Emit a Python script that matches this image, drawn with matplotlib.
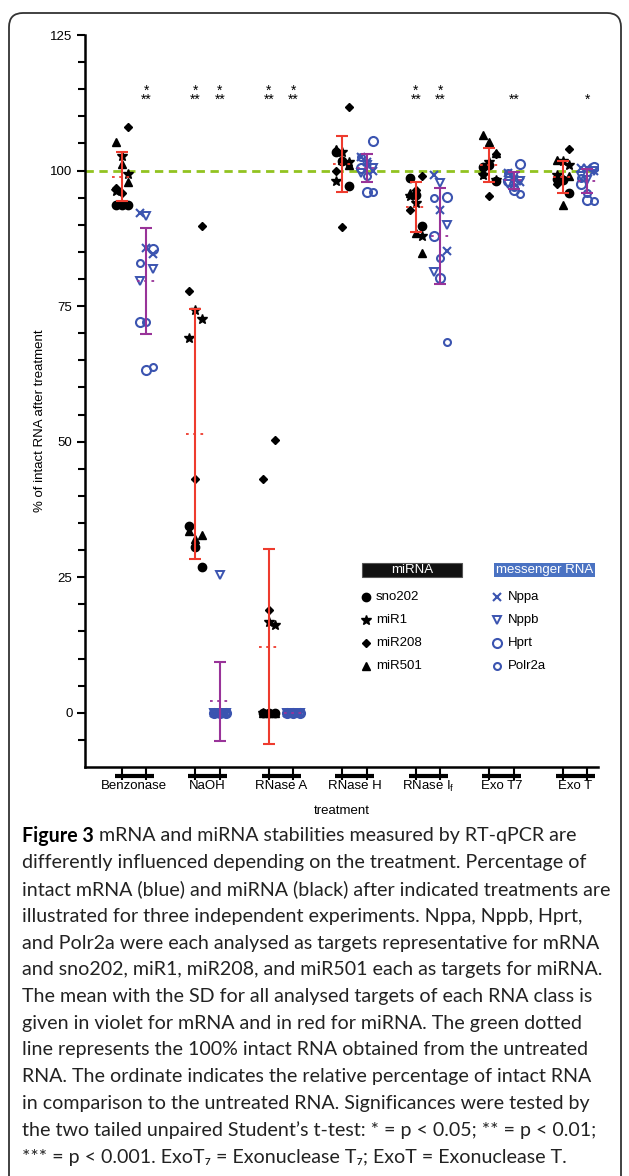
import numpy as np
import matplotlib
matplotlib.use('Agg')
import matplotlib.pyplot as plt
from matplotlib.lines import Line2D
from matplotlib.patches import FancyBboxPatch, Rectangle
from matplotlib.transforms import blended_transform_factory, IdentityTransform

plt.rcParams['font.family'] = ['Liberation Sans', 'DejaVu Sans']

treatments = ['Benzonase', 'NaOH', 'RNase A', 'RNase H', r'RNase I$_\mathregular{f}$', 'Exo T7', 'Exo T']

# miRNA targets, three experiments per treatment (% intact)
sno202 = [[93.7, 93.7, 93.7], [34.5, 30.6, 26.8], [0, 0, 0], [103.5, 101.8, 97.1],
          [98.6, 95.5, 89.7], [100.6, 101.0, 98.0], [98.5, 98.2, 95.8]]
miR1 = [[102.7, 99.4, 96.2], [74.2, 72.7, 69.2], [16.7, 16.2, 0], [103.5, 101.5, 98.0],
        [94.1, 87.9, 95.3], [101.5, 98.3, 99.2], [101.7, 101.0, 99.2]]
miR208 = [[108.1, 96.7, 95.8], [89.7, 77.7, 43.1], [50.3, 43.1, 19.0], [111.7, 100.0, 89.5],
          [99.0, 92.7, 96.5], [103.0, 99.4, 95.3], [103.9, 97.6, 98.5]]
miR501 = [[105.3, 101.2, 97.8], [33.6, 32.0, 32.7], [0, 0, 0], [104.0, 102.0, 101.0],
          [95.8, 88.5, 84.8], [106.6, 105.3, 103.2], [101.9, 93.7, 99.0]]

# mRNA targets
nppa = [[92.1, 85.8, 84.7], [0, 0, 0], [0, 0, 0], [102.5, 101.5, 100.0],
        [99.2, 92.7, 85.1], [99.5, 98.5, 97.8], [100.4, 100.4, 99.9]]
nppb = [[91.7, 81.8, 79.6], [25.5, 0, 0], [0, 0, 0], [101.0, 100.5, 99.5],
        [97.7, 90.0, 81.2], [99.0, 98.0, 97.5], [98.3, 100.0, 99.0]]
hprt = [[85.6, 72.0, 63.2], [0, 0, 0], [0, 0, 0], [105.4, 100.5, 96.1],
        [95.2, 87.9, 80.2], [101.2, 98.0, 96.5], [100.7, 97.6, 94.6]]
polr2a = [[82.9, 72.0, 63.7], [0, 0, 0], [0, 0, 0], [102.5, 99.0, 96.1],
          [94.9, 83.9, 68.3], [99.5, 97.0, 95.7], [98.6, 95.8, 94.3]]

mirna_mean = [98.9, 51.4, 12.2, 101.2, 93.3, 101.0, 98.8]
mirna_sd = [4.6, 23.0, 18.0, 5.1, 4.6, 3.2, 2.9]
mrna_mean = [79.6, 2.1, 0.0, 100.5, 88.0, 98.2, 98.1]
mrna_sd = [9.75, 7.3, 0.0, 2.6, 8.85, 1.55, 2.2]

# significance marks
mirna_sig = ['', '*\n**', '*\n**', '', '*\n**', '', '']
mrna_sig = ['*\n**', '*\n**', '*\n**', '', '*\n**', '**', '*']

BLUE = '#3b54b0'
RED = '#ee3b2e'
VIOLET = '#993399'
GREEN = '#92c320'

W, H = 629, 1176
fig = plt.figure(figsize=(W / 100, H / 100), dpi=100)

def fx(x):
    return x / W

def fy(y):
    return 1 - y / H

# rounded frame around figure + caption
frame = FancyBboxPatch((9, -30), 612, H - 13 + 30, boxstyle='round,pad=0,rounding_size=14',
                       transform=IdentityTransform(), fill=False, ec='#333333', lw=1.3)
fig.add_artist(frame)

ax = fig.add_axes([fx(85), fy(767), fx(598 - 85), (767 - 35) / H])
ax.set_xlim(-0.51, 20.43)
ax.set_ylim(-10, 125)

mirna_targets = [(sno202, dict(marker='o', ms=6, mfc='black', mec='black')),
                 (miR1, dict(marker='*', ms=7.5, mfc='black', mec='black')),
                 (miR208, dict(marker='D', ms=4.5, mfc='black', mec='black')),
                 (miR501, dict(marker='^', ms=6, mfc='black', mec='black'))]
mrna_targets = [(nppa, dict(marker='x', ms=6, mec=BLUE, mew=1.5)),
                (nppb, dict(marker='v', ms=6, mfc='none', mec=BLUE, mew=1.4)),
                (hprt, dict(marker='o', ms=6.5, mfc='none', mec=BLUE, mew=1.5)),
                (polr2a, dict(marker='o', ms=5, mfc='none', mec=BLUE, mew=1.5))]

offs = [-0.25, 0.0, 0.25]
for cls, targets in [(1, mirna_targets), (2, mrna_targets)]:
    for t, (vals, style) in enumerate(targets):
        for g in range(len(treatments)):
            for j, v in enumerate(vals[g]):
                ax.plot(3 * g + cls + offs[(j + t) % 3], v, ls='none', zorder=3, **style)

for g in range(len(treatments)):
    for cls, m, s, c in [(1, mirna_mean[g], mirna_sd[g], RED), (2, mrna_mean[g], mrna_sd[g], VIOLET)]:
        x = 3 * g + cls
        if s > 0:
            ax.errorbar(x, m, yerr=s, fmt='none', ecolor=c, elinewidth=1.5, capsize=4,
                        capthick=1.5, zorder=4)
        ax.plot([x - 0.4, x + 0.4], [m, m], ls=(0, (1.5, 2.5)), color=c, lw=1.3, zorder=4)

ax.axhline(100, color=GREEN, lw=2, ls=(0, (3, 2)), zorder=2)

# significance stars (single text per column, tight line spacing)
for g in range(len(treatments)):
    for cls, sig in [(1, mirna_sig[g]), (2, mrna_sig[g])]:
        if sig:
            ax.text(3 * g + cls, 112.3, sig, ha='center', va='baseline', fontsize=10,
                    linespacing=0.55, multialignment='center')

# axes styling
for side in ['top', 'right']:
    ax.spines[side].set_visible(False)
for side in ['left', 'bottom']:
    ax.spines[side].set_linewidth(1.8)
ax.set_yticks([0, 25, 50, 75, 100, 125])
ax.set_yticks(np.arange(-5, 125, 5), minor=True)
ax.tick_params(axis='y', which='major', length=6, width=1.5, labelsize=9.5, pad=3)
ax.tick_params(axis='y', which='minor', length=5, width=1.5)
ax.set_xticks([3 * g + c for g in range(len(treatments)) for c in (1, 2)])
ax.tick_params(axis='x', length=9, width=1.5, labelbottom=False)

bt = blended_transform_factory(ax.transData, ax.transAxes)
for g, name in enumerate(treatments):
    ax.plot([3 * g + 0.7, 3 * g + 2.3], [-0.0125, -0.0125], transform=bt, color='black', lw=3,
            solid_capstyle='butt', clip_on=False)
    ax.text(3 * g + 1.5, -0.0265, name, transform=bt, ha='center', va='center', fontsize=9.5)
ax.text(0.5, -0.060, 'treatment', transform=ax.transAxes, ha='center', va='center', fontsize=9.5)
ax.set_ylabel('% of intact RNA after treatment', fontsize=9.5)
ax.yaxis.set_label_coords(-0.076, 0.473)

# legend
fig.add_artist(Rectangle((fx(362), fy(577)), fx(100), 14 / H, transform=fig.transFigure,
                         fc='#111111', ec='#555555', lw=0.8))
fig.text(fx(412), fy(570), 'miRNA', color='white', ha='center', va='center', fontsize=9.5)
fig.add_artist(Rectangle((fx(494), fy(577)), fx(101), 14 / H, transform=fig.transFigure,
                         fc='#4a72c2', ec='none'))
fig.text(fx(544.5), fy(570), 'messenger RNA', color='white', ha='center', va='center', fontsize=9.5)
mirna_names = ['sno202', 'miR1', 'miR208', 'miR501']
mrna_names = ['Nppa', 'Nppb', 'Hprt', 'Polr2a']
for k in range(4):
    yy = 597 + 23 * k
    for (mx, tx, names, targets) in [(366, 376, mirna_names, mirna_targets),
                                     (497, 508, mrna_names, mrna_targets)]:
        fig.add_artist(Line2D([fx(mx)], [fy(yy)], ls='none', transform=fig.transFigure,
                              **targets[k][1]))
        fig.text(fx(tx), fy(yy), names[k], ha='left', va='center', fontsize=9.5)

# caption
cap_lines = [
    ' mRNA and miRNA stabilities measured by RT-qPCR are',
    'differently influenced depending on the treatment. Percentage of',
    'intact mRNA (blue) and miRNA (black) after indicated treatments are',
    'illustrated for three independent experiments. Nppa, Nppb, Hprt,',
    'and Polr2a were each analysed as targets representative for mRNA',
    'and sno202, miR1, miR208, and miR501 each as targets for miRNA.',
    'The mean with the SD for all analysed targets of each RNA class is',
    'given in violet for mRNA and in red for miRNA. The green dotted',
    'line represents the 100% intact RNA obtained from the untreated',
    'RNA. The ordinate indicates the relative percentage of intact RNA',
    'in comparison to the untreated RNA. Significances were tested by',
    'the two tailed unpaired Student\u2019s t-test: * = p < 0.05; ** = p < 0.01;',
    '*** = p < 0.001. ExoT\u2087 = Exonuclease T\u2087; ExoT = Exonuclease T.',
]
cap_font = ['Lato', 'DejaVu Sans']
r = fig.canvas.get_renderer()
probe = fig.text(0, 0, cap_lines[2], fontsize=10, family=cap_font)
wid = probe.get_window_extent(r).width
probe.remove()
cap_size = 10 * 590 / wid

x0, y0, dy = 22, 836, 26.75
head = fig.text(fx(x0), fy(y0), 'Figure 3', fontsize=cap_size, family=cap_font,
                weight='bold', ha='left', va='center')
hw = head.get_window_extent(r).width
for i, line in enumerate(cap_lines):
    xs = x0 + hw if i == 0 else x0
    fig.text(fx(xs), fy(y0 + dy * i), line, fontsize=cap_size, family=cap_font,
             ha='left', va='center', color='#222222')

fig.savefig('out.png', dpi=100)
